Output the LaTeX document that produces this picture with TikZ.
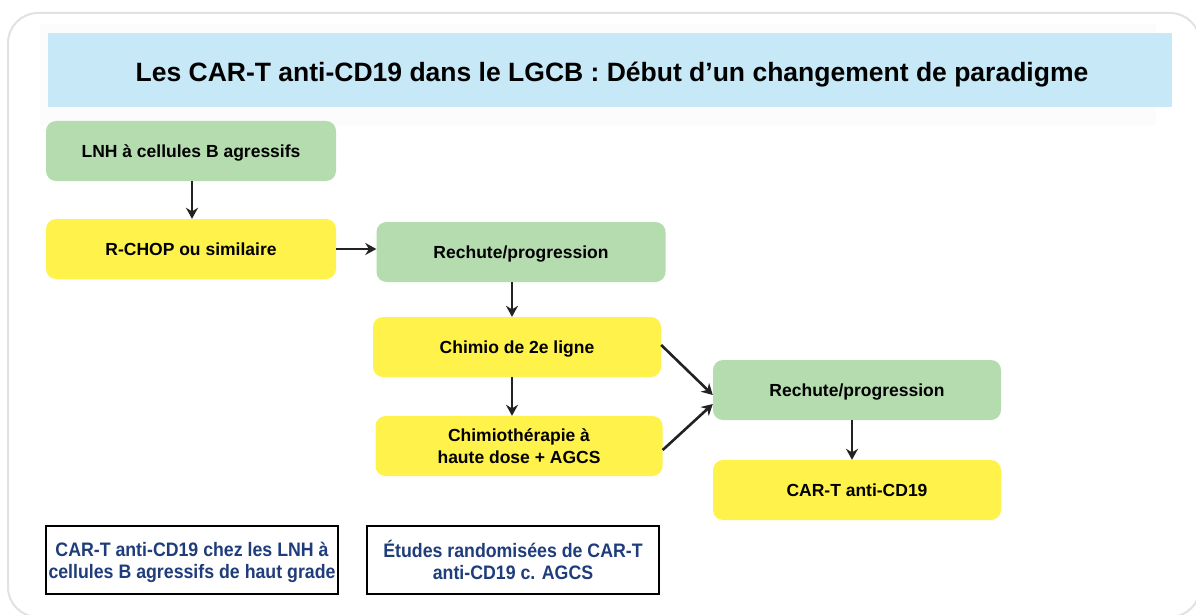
\documentclass[tikz,border=0pt]{standalone}
\usepackage{fontspec}
\setmainfont{Liberation Sans}
\newfontfamily\narrowfont[FakeStretch=0.91]{Liberation Sans}
\usetikzlibrary{arrows.meta}
\definecolor{bannerblue}{HTML}{C6E8F7}
\definecolor{boxgreen}{HTML}{B5DCAF}
\definecolor{boxyellow}{HTML}{FFF24A}
\definecolor{navy}{HTML}{1F3D7A}
\definecolor{framegray}{HTML}{E2E2E2}
\definecolor{arrowgray}{HTML}{222222}
\tikzset{
  stage/.style={rounded corners=10pt, minimum width=290pt, minimum height=60pt,
    align=center, font=\fontsize{17.5}{22}\selectfont\bfseries, inner sep=0pt, text depth=0pt},
  greenbox/.style={stage, fill=boxgreen},
  yellowbox/.style={stage, fill=boxyellow},
  notebox/.style={draw=black, line width=2pt, minimum width=292pt, minimum height=68pt,
    align=center, text=navy, font=\narrowfont\fontsize{19.5}{22}\selectfont\bfseries, inner sep=0pt, text depth=0pt},
  flow/.style={draw=arrowgray, line width=2.6pt, -{Stealth[length=11pt,width=12pt]}},
}
\begin{document}
\begin{tikzpicture}[x=1pt,y=-1pt]
\useasboundingbox (0,0) rectangle (1196,615);
\clip (0,0) rectangle (1196,615);
\fill[white] (0,0) rectangle (1196,615);
\draw[framegray, line width=2pt, rounded corners=30pt] (8,13) rectangle (1200,617);
\fill[gray!2] (40,24) rectangle (1156,126);
\node[fill=bannerblue, minimum width=1124pt, minimum height=74pt, inner sep=0pt] (title) at (610,70) {};
\node[font=\fontsize{26.5}{30}\selectfont\bfseries, inner sep=0pt, text depth=0pt] (titletext) at (612,72)
  {Les CAR-T anti-CD19 dans le LGCB : Début d’un changement de paradigme};

\node[greenbox] (lnh) at (191,151) {LNH à cellules B agressifs};
\node[yellowbox] (rchop) at (191,249) {R-CHOP ou similaire};
\node[greenbox, minimum width=289pt] (rech1) at (521,252) {Rechute/progression};
\node[yellowbox, minimum width=288pt] (chimio) at (517,347) {Chimio de 2e ligne};
\node[yellowbox, minimum width=287pt] (haute) at (519,446) {Chimiothérapie à\\haute dose + AGCS};
\node[greenbox, minimum width=288pt] (rech2) at (857,390) {Rechute/progression};
\node[yellowbox, minimum width=288pt] (cart) at (857,490) {CAR-T anti-CD19};

\node[notebox] (note1) at (192,560) {CAR-T anti-CD19 chez les LNH à\\cellules B agressifs de haut grade};
\node[notebox] (note2) at (513,560) {Études randomisées de CAR-T\\anti-CD19 c. AGCS};

\draw[flow] (lnh.south -| 192,0) -- (rchop.north -| 192,0);
\draw[flow] (rchop.east) -- (rchop.east -| rech1.west);
\draw[flow] (rech1.south -| 512,0) -- (chimio.north -| 512,0);
\draw[flow] (chimio.south -| 512,0) -- (haute.north -| 512,0);
\draw[flow] ([yshift=2pt]chimio.east) -- ([yshift=-5pt]rech2.west);
\draw[flow] ([yshift=-4pt]haute.east) -- ([yshift=-14pt]rech2.west);
\draw[flow] (rech2.south -| 852,0) -- (cart.north -| 852,0);
\end{tikzpicture}
\end{document}
